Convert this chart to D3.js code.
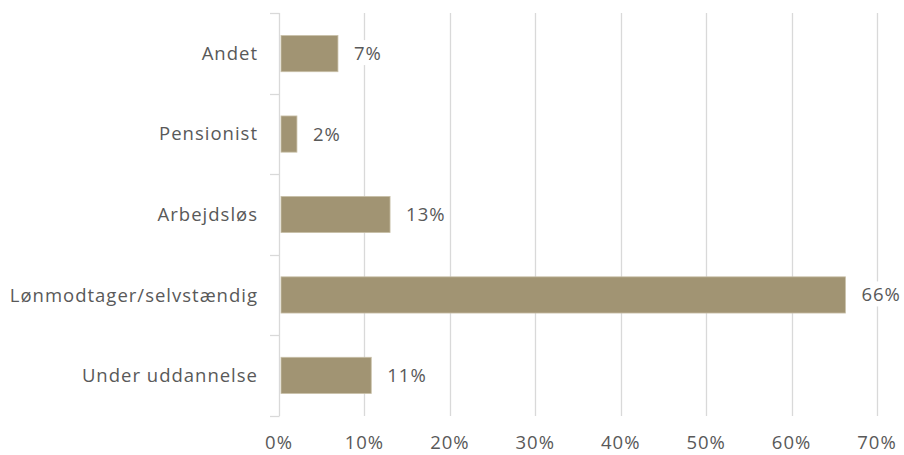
<!DOCTYPE html>
<html>
<head>
<meta charset="utf-8">
<script src="https://cdn.jsdelivr.net/npm/d3@7"></script>
<style>
  body { margin: 0; background: #fff; }
  text { font-family: "Open Sans", sans-serif; fill: #595959; letter-spacing: 1px; }
</style>
</head>
<body>
<svg id="chart" width="904" height="455"></svg>
<script>
// categories top to bottom, values in percent
var categories = ['Andet', 'Pensionist', 'Arbejdsløs', 'Lønmodtager/selvstændig', 'Under uddannelse'];
var values = [6.9, 2.1, 13.0, 66.3, 10.8];
var ticks = [0, 10, 20, 30, 40, 50, 60, 70];

var plotLeft = 279, plotRight = 877, plotTop = 13, plotBottom = 416;
var fs = 18.5;

var svg = d3.select('#chart');

var x = d3.scaleLinear().domain([0, 70]).range([plotLeft, plotRight]);
var bands = d3.scaleBand().domain(categories).range([plotTop, plotBottom]);
var y = d3.scaleBand().domain(categories).range([plotTop, plotBottom]).paddingInner(0.55).paddingOuter(0.28);

// gridlines
svg.append('g')
   .selectAll('line')
   .data(ticks.slice(1))
   .enter()
   .append('line')
   .attr('x1', function(d) { return Math.round(x(d)) + 0.5; })
   .attr('x2', function(d) { return Math.round(x(d)) + 0.5; })
   .attr('y1', plotTop)
   .attr('y2', plotBottom)
   .attr('stroke', '#d9d9d9')
   .attr('stroke-width', 1.3);

// category axis line with ticks between bands
svg.append('line')
   .attr('x1', plotLeft + 0.5).attr('x2', plotLeft + 0.5)
   .attr('y1', plotTop).attr('y2', plotBottom)
   .attr('stroke', '#d9d9d9').attr('stroke-width', 1.3);

var bounds = categories.map(function(c) { return bands(c); }).concat([plotBottom]);
svg.append('g')
   .selectAll('line')
   .data(bounds)
   .enter()
   .append('line')
   .attr('x1', plotLeft - 9).attr('x2', plotLeft + 0.5)
   .attr('y1', function(d) { return Math.round(d) + 0.5; })
   .attr('y2', function(d) { return Math.round(d) + 0.5; })
   .attr('stroke', '#d9d9d9').attr('stroke-width', 1.3);

// bars
svg.append('g')
   .selectAll('rect')
   .data(values)
   .enter()
   .append('rect')
   .attr('x', x(0) + 2)
   .attr('y', function(d, i) { return y(categories[i]); })
   .attr('width', function(d) { return x(d) - x(0) - 2; })
   .attr('height', y.bandwidth())
   .attr('fill', '#a19473')
   .attr('stroke', '#c9c0a8')
   .attr('stroke-width', 0.8);

// value labels with white backing
var labels = svg.append('g')
   .selectAll('g')
   .data(values)
   .enter()
   .append('g')
   .attr('transform', function(d, i) {
      return 'translate(' + (x(d) + 16) + ',' + (y(categories[i]) + y.bandwidth() / 2) + ')';
   });
labels.append('text')
   .attr('dy', '0.35em')
   .attr('font-size', fs)
   .text(function(d) { return Math.round(d) + '%'; });
labels.each(function() {
   var g = d3.select(this);
   var b = g.select('text').node().getBBox();
   g.insert('rect', 'text')
    .attr('x', b.x - 2).attr('y', b.y)
    .attr('width', b.width + 4).attr('height', b.height)
    .attr('fill', '#fff');
});

// category labels
svg.append('g')
   .selectAll('text')
   .data(categories)
   .enter()
   .append('text')
   .attr('x', 258)
   .attr('y', function(d) { return bands(d) + bands.bandwidth() / 2; })
   .attr('dy', '0.35em')
   .attr('text-anchor', 'end')
   .attr('font-size', fs)
   .text(function(d) { return d; });

// x tick labels
svg.append('g')
   .selectAll('text')
   .data(ticks)
   .enter()
   .append('text')
   .attr('x', function(d) { return x(d); })
   .attr('y', 443)
   .attr('dy', '0.35em')
   .attr('text-anchor', 'middle')
   .attr('font-size', fs)
   .text(function(d) { return d + '%'; });
</script>
</body>
</html>
